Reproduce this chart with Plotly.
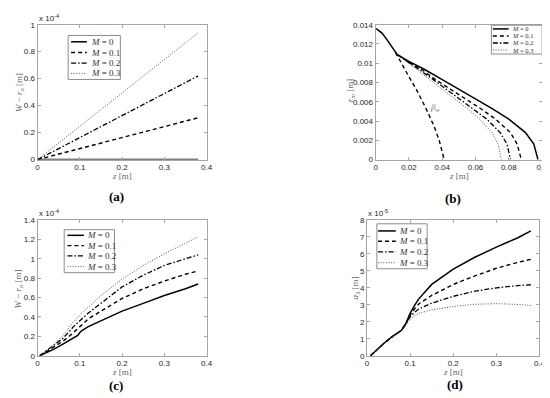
import plotly.graph_objects as go

W, H = 550, 398

# ---------------- data ----------------
M_labels = ["<i>M</i> = 0", "<i>M</i> = 0.1", "<i>M</i> = 0.2", "<i>M</i> = 0.3"]

# (a) W - r_o [m]  (values in units of 1e-4)
a_z = [0.0, 0.1, 0.2, 0.3, 0.38]
a_M0 = [0.0, 0.0, 0.0, 0.0, 0.0]
a_M1 = [0.0, 0.082, 0.163, 0.245, 0.31]
a_M2 = [0.0, 0.163, 0.326, 0.49, 0.62]
a_M3 = [0.0, 0.247, 0.495, 0.742, 0.94]

# (b) r_m [m] vs z [m]
b_z_M0 = [0.0004, 0.004, 0.007, 0.010, 0.013, 0.02, 0.03, 0.04, 0.05, 0.06, 0.07, 0.08, 0.09, 0.095, 0.0975]
b_r_M0 = [0.0136, 0.0131, 0.0124, 0.0116, 0.0109, 0.0102, 0.0093, 0.0083, 0.0073, 0.0063, 0.0053, 0.0042, 0.0028, 0.0016, 0.0]
b_z_M1 = [0.013, 0.019, 0.028, 0.036, 0.045, 0.054, 0.063, 0.072, 0.081, 0.085, 0.0875]
b_z_M2 = [0.013, 0.0186, 0.0265, 0.0346, 0.0426, 0.0507, 0.0587, 0.0668, 0.0748, 0.0789, 0.081]
b_z_M3 = [0.013, 0.0182, 0.0255, 0.0329, 0.0403, 0.0477, 0.0551, 0.0625, 0.0699, 0.0736, 0.0755]
b_r_M123 = [0.0109, 0.0102, 0.0093, 0.0083, 0.0073, 0.0063, 0.0053, 0.0042, 0.0028, 0.0016, 0.0]
b_z_beta = [0.012, 0.016, 0.02, 0.025, 0.03, 0.035, 0.038, 0.0412]
b_r_beta = [0.0111, 0.0098, 0.0086, 0.0071, 0.0054, 0.0035, 0.0021, 0.0]

# (c) W - r_o [m]  (values in units of 1e-4)
c_z_M0 = [0.005, 0.02, 0.04, 0.06, 0.08, 0.095, 0.1, 0.105, 0.12, 0.15, 0.2, 0.25, 0.3, 0.35, 0.38]
c_M0 = [0.0, 0.03, 0.07, 0.12, 0.17, 0.21, 0.24, 0.26, 0.30, 0.36, 0.46, 0.54, 0.62, 0.69, 0.74]
c_z_M1 = [0.005, 0.02, 0.04, 0.06, 0.08, 0.09, 0.1, 0.12, 0.15, 0.2, 0.25, 0.3, 0.35, 0.38]
c_M1 = [0.0, 0.04, 0.09, 0.15, 0.22, 0.26, 0.31, 0.38, 0.46, 0.59, 0.69, 0.77, 0.84, 0.875]
c_z_M2 = [0.005, 0.02, 0.04, 0.06, 0.075, 0.085, 0.1, 0.12, 0.15, 0.2, 0.25, 0.3, 0.35, 0.38]
c_M2 = [0.0, 0.05, 0.11, 0.18, 0.25, 0.30, 0.36, 0.44, 0.54, 0.71, 0.83, 0.93, 1.0, 1.04]
c_z_M3 = [0.005, 0.02, 0.04, 0.06, 0.07, 0.075, 0.09, 0.1, 0.12, 0.15, 0.2, 0.25, 0.3, 0.35, 0.38]
c_M3 = [0.0, 0.05, 0.12, 0.21, 0.26, 0.30, 0.37, 0.42, 0.50, 0.62, 0.79, 0.93, 1.05, 1.16, 1.225]

# (d) a_3 [m]  (values in units of 1e-5)
d_z = [0.008, 0.02, 0.04, 0.06, 0.08, 0.09, 0.1, 0.11, 0.12, 0.15, 0.2, 0.25, 0.3, 0.35, 0.38]
d_M0 = [0.0, 0.3, 0.75, 1.15, 1.5, 1.9, 2.5, 2.95, 3.35, 4.2, 5.1, 5.8, 6.4, 6.95, 7.35]
d_M1 = [0.0, 0.3, 0.75, 1.15, 1.5, 1.9, 2.4, 2.75, 3.05, 3.55, 4.2, 4.7, 5.15, 5.5, 5.68]
d_M2 = [0.0, 0.3, 0.75, 1.15, 1.5, 1.85, 2.3, 2.55, 2.75, 3.1, 3.5, 3.8, 4.0, 4.13, 4.18]
d_M3 = [0.0, 0.3, 0.75, 1.15, 1.5, 1.8, 2.15, 2.35, 2.5, 2.7, 2.9, 3.03, 3.07, 3.02, 2.96]

# tick labels
x_ticks_04 = [0, 0.1, 0.2, 0.3, 0.4]
x_ticks_04_text = ["0", "0.1", "0.2", "0.3", "0.4"]
a_yticks = [0, 0.2, 0.4, 0.6, 0.8, 1.0]
a_yticks_text = ["0", "0.2", "0.4", "0.6", "0.8", "1"]
b_xticks = [0, 0.02, 0.04, 0.06, 0.08, 0.1]
b_xticks_text = ["0", "0.02", "0.04", "0.06", "0.08", "0.1"]
b_yticks = [0, 0.002, 0.004, 0.006, 0.008, 0.01, 0.012, 0.014]
b_yticks_text = ["0", "0.002", "0.004", "0.006", "0.008", "0.01", "0.012", "0.014"]
c_yticks = [0, 0.2, 0.4, 0.6, 0.8, 1.0, 1.2, 1.4]
c_yticks_text = ["0", "0.2", "0.4", "0.6", "0.8", "1", "1.2", "1.4"]
d_yticks = [0, 1, 2, 3, 4, 5, 6, 7, 8]
d_yticks_text = [str(v) for v in d_yticks]

# ---------------- styles ----------------
STY = [
    dict(color="black", width=1.5, dash="solid"),
    dict(color="black", width=1.4, dash="4px,3px"),
    dict(color="black", width=1.3, dash="5px,2px,1.5px,2px"),
    dict(color="#555555", width=1.0, dash="1px,1.6px"),
]
TICKFONT = dict(family="Liberation Sans, Arial", size=8, color="#262626")
TITLEFONT = dict(family="Liberation Serif, serif", size=9, color="#666666")
AXCOL = "#a6a6a6"


def px(x):
    return x / W


def py(y):
    return 1 - y / H


fig = go.Figure()


def add(xs, ys, k, ax):
    fig.add_trace(go.Scatter(x=xs, y=ys, mode="lines", line=STY[k], showlegend=False,
                             xaxis="x" + ax, yaxis="y" + ax, hoverinfo="skip"))


# panel a -> axis 1
for k, ys in enumerate([a_M0, a_M1, a_M2, a_M3]):
    add(a_z, ys, k, "")
# panel b -> axis 2
add(b_z_M0, b_r_M0, 0, "2")
add(b_z_M1, b_r_M123, 1, "2")
add(b_z_M2, b_r_M123, 2, "2")
add(b_z_M3, b_r_M123, 3, "2")
add(b_z_beta, b_r_beta, 1, "2")
# panel c -> axis 3
add(c_z_M0, c_M0, 0, "3")
add(c_z_M1, c_M1, 1, "3")
add(c_z_M2, c_M2, 2, "3")
add(c_z_M3, c_M3, 3, "3")
# panel d -> axis 4
for k, ys in enumerate([d_M0, d_M1, d_M2, d_M3]):
    add(d_z, ys, k, "4")

# plot areas in pixels: (left, top, right, bottom)
boxes = {
    "": (28, 13, 199.5, 151),
    "2": (371, 13, 540, 151),
    "3": (28, 212.7, 199.5, 351.7),
    "4": (362.3, 212.7, 537.3, 351.7),
}


def axis(dom, rng, tv, tt, anchor):
    return dict(domain=dom, range=rng, tickvals=tv, ticktext=tt, anchor=anchor,
                showline=True, linecolor=AXCOL, linewidth=1, mirror="ticks",
                ticks="inside", ticklen=3, tickcolor=AXCOL, showgrid=False,
                zeroline=False, tickfont=TICKFONT, ticklabeloverflow="allow")


layout = dict(width=W, height=H, margin=dict(l=0, r=0, t=0, b=0),
              paper_bgcolor="white", plot_bgcolor="white", showlegend=False)

specs = {
    "": ([0, 0.4], x_ticks_04, x_ticks_04_text, [0, 1], a_yticks, a_yticks_text),
    "2": ([0, 0.1], b_xticks, b_xticks_text, [0, 0.014], b_yticks, b_yticks_text),
    "3": ([0, 0.4], x_ticks_04, x_ticks_04_text, [0, 1.4], c_yticks, c_yticks_text),
    "4": ([0, 0.4], x_ticks_04, x_ticks_04_text, [0, 8], d_yticks, d_yticks_text),
}
for ax, (xr, xtv, xtt, yr, ytv, ytt) in specs.items():
    l, t, r, b = boxes[ax]
    layout["xaxis" + ax] = axis([px(l), px(r)], xr, xtv, xtt, "y" + ax)
    layout["yaxis" + ax] = axis([py(b), py(t)], yr, ytv, ytt, "x" + ax)

fig.update_layout(**layout)

# ---------------- axis titles (as text annotations) ----------------
WR = "<i>W</i> − <i>r</i><sub><i>o</i></sub> [m]"
x_titles = [(113.7, 168.0), (455.5, 168.0), (113.7, 368.8), (449.8, 368.8)]
for xx, yy in x_titles:
    fig.add_annotation(xref="paper", yref="paper", x=px(xx), y=py(yy), text="<i>z</i> [m]",
                       showarrow=False, xanchor="center", yanchor="middle", font=TITLEFONT)
y_titles = [(WR, 9, 82), ("<i>r</i><sub><i>m</i></sub> [m]", 345, 80),
            (WR, 9, 283), ("<i>a</i><sub>3</sub> [m]", 351, 282)]
for txt, xx, yy in y_titles:
    fig.add_annotation(xref="paper", yref="paper", x=px(xx), y=py(yy), text=txt, textangle=-90,
                       showarrow=False, xanchor="center", yanchor="middle", font=TITLEFONT)

# ---------------- manual compact legends ----------------
legends = [
    # box (l,t,r,b), row ys, line x0,x1, text x, font size
    ((59, 24, 112, 69), [30.5, 41.5, 52.3, 62.8], 62, 78, 80, 9),
    ((488.5, 13.5, 540, 43), [17.3, 24.5, 31.7, 38.9], 490, 506, 507.5, 6.5),
    ((55, 222.7, 106, 266.7), [228.5, 239, 249.5, 260.5], 58.3, 75, 76.5, 9),
    ((372.3, 216.7, 423.3, 262.7), [224, 234.5, 245.5, 256.5], 373.5, 391.5, 393, 9),
]
for (l, t, r, b), rows, x0, x1, tx, fs in legends:
    fig.add_shape(type="rect", xref="paper", yref="paper", x0=px(l), x1=px(r),
                  y0=py(b), y1=py(t), line=dict(color="#8c8c8c", width=1),
                  fillcolor="white", layer="above")
    for k, yy in enumerate(rows):
        fig.add_shape(type="line", xref="paper", yref="paper", x0=px(x0), x1=px(x1),
                      y0=py(yy), y1=py(yy), line=STY[k], layer="above")
        fig.add_annotation(xref="paper", yref="paper", x=px(tx), y=py(yy), text=M_labels[k],
                           showarrow=False, xanchor="left", yanchor="middle",
                           font=dict(family="Liberation Serif, serif", size=fs, color="#333333"))

# exponent labels
for txt, xx, yy in [("x 10<sup>-4</sup>", 27, 6.5), ("x 10<sup>-4</sup>", 27, 206),
                    ("x 10<sup>-5</sup>", 361, 206)]:
    fig.add_annotation(xref="paper", yref="paper", x=px(xx), y=py(yy), text=txt,
                       showarrow=False, xanchor="left", yanchor="middle",
                       font=dict(family="Liberation Sans, Arial", size=8, color="#262626"))

# beta_w label in (b)
fig.add_annotation(xref="x2", yref="y2", x=0.0315, y=0.00545, text="<i>β<sub>w</sub></i>",
                   showarrow=False, xanchor="left", yanchor="middle",
                   font=dict(family="Liberation Serif, serif", size=9, color="#777777"))

# panel labels
for txt, xx, yy in [("(a)", 108, 188.5), ("(b)", 450, 191), ("(c)", 108, 382), ("(d)", 451.5, 381.5)]:
    fig.add_annotation(xref="paper", yref="paper", x=px(xx), y=py(yy), text="<b>" + txt + "</b>",
                       showarrow=False, xanchor="center", yanchor="middle",
                       font=dict(family="Liberation Serif, serif", size=13, color="black"))

fig.write_html("out.html")
